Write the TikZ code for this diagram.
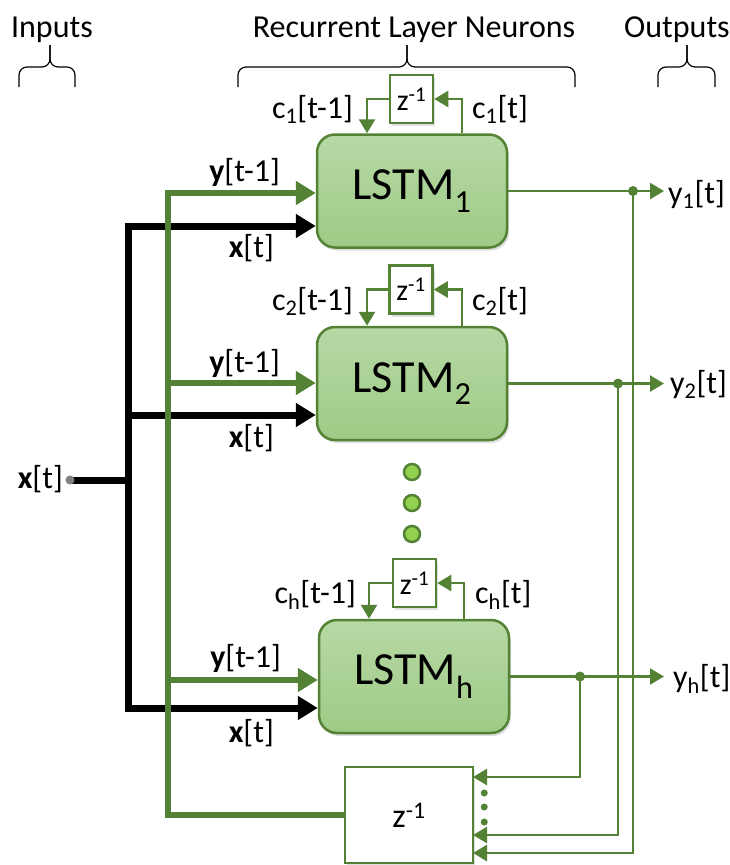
\documentclass[tikz,border=0pt]{standalone}
\usepackage{fontspec}
\setmainfont{Carlito}
\usepackage{tikz}
\usetikzlibrary{arrows.meta, calc, shadows}

\definecolor{lgreen}{HTML}{548235}
\definecolor{boxtop}{HTML}{B7D9A5}
\definecolor{boxbot}{HTML}{9ECA86}
\definecolor{dotfill}{HTML}{92D050}

\begin{document}
\begin{tikzpicture}[
  x=1pt, y=-1pt,
  font=\fontsize{32}{38}\selectfont,
  ctip/.style={-{Triangle[length=14pt, width=16pt]}},
  btip/.style={-{Triangle[length=20pt, width=23pt]}},
  shadowed/.style={drop shadow={shadow xshift=2pt, shadow yshift=-3pt, opacity=0.25}},
  lstm/.style={draw=lgreen, line width=2.5pt, rounded corners=18pt,
    minimum width=190pt, minimum height=113pt,
    top color=boxtop, bottom color=boxbot, shadowed,
    font=\fontsize{46}{52}\selectfont},
  delay/.style={draw=lgreen, line width=2.5pt, fill=white, inner sep=0pt,
    minimum width=43pt, minimum height=48pt, shadowed,
    font=\fontsize{30}{36}\selectfont},
  lbl/.style={inner sep=0pt},
  wire/.style={lgreen, line width=2.5pt},
  ybus/.style={lgreen, line width=6pt},
  xbus/.style={black, line width=7pt},
  ]

  \useasboundingbox (0,0) rectangle (730,865);

  % Headers and braces
  \node[lbl, anchor=base] (hin) at (52,37) {Inputs};
  \node[lbl, anchor=base] (hrec) at (414,37) {Recurrent Layer Neurons};
  \node[lbl, anchor=base] (hout) at (677,37) {Outputs};
  \foreach \xl/\xm/\xr in {19/50/75, 238/407/575, 658/687/715} {
    \draw[line width=1.2pt, rounded corners=8pt] (\xl,87) -- (\xl,67) -- (\xm,67) -- (\xm,45);
    \draw[line width=1.2pt, rounded corners=8pt] (\xr,87) -- (\xr,67) -- (\xm,67) -- (\xm,45);
  }

  % LSTM cells
  \node[lstm] (lstm1) at (412,191) {LSTM\textsubscript{1}};
  \node[lstm] (lstm2) at (412,383.5) {LSTM\textsubscript{2}};
  \node[lstm] (lstmh) at (414,676.5) {LSTM\textsubscript{h}};

  % Cell state delays
  \node[delay] (zc1) at (411.5,99) {z\textsuperscript{-1}};
  \node[delay] (zc2) at (411,289.5) {z\textsuperscript{-1}};
  \node[delay] (zch) at (414.5,583) {z\textsuperscript{-1}};
  \foreach \n in {1,2,h} {
    \draw[wire, ctip] ([xshift=50pt]lstm\n.north) |- (zc\n.east);
    \draw[wire, ctip] (zc\n.west) -| ([xshift=-45pt]lstm\n.north);
  }
  \node[lbl, anchor=base east] (c1in) at (353,118) {c\textsubscript{1}[t-1]};
  \node[lbl, anchor=base west] (c1out) at (472,118) {c\textsubscript{1}[t]};
  \node[lbl, anchor=base east] (c2in) at (353,310) {c\textsubscript{2}[t-1]};
  \node[lbl, anchor=base west] (c2out) at (472,310) {c\textsubscript{2}[t]};
  \node[lbl, anchor=base east] (chin) at (356,603) {c\textsubscript{h}[t-1]};
  \node[lbl, anchor=base west] (chout) at (475,603) {c\textsubscript{h}[t]};

  % More cells
  \foreach \yy in {472, 503, 534}
    \filldraw[fill=dotfill, draw=lgreen, line width=2.5pt] (412,\yy) circle (8pt);

  % Output delay
  \node[delay, minimum width=128pt, minimum height=96pt,
    font=\fontsize{34}{40}\selectfont] (zout) at (409,815) {z\textsuperscript{-1}};
  \foreach \dy in {-22, -8, 7}
    \fill[lgreen] ($(zout.east)+(10,\dy)$) circle (3.5pt);

  % Input x[t] bus
  \coordinate (xin) at (70,480);
  \coordinate (xb1) at (128,226);
  \coordinate (xb2) at (128,415);
  \coordinate (xbh) at (128,708);
  \draw[xbus, {Triangle[length=20pt, width=23pt]}-{Triangle[length=20pt, width=23pt]}]
    (xb1 -| lstm1.west) -- (xb1) -- (xbh) -- (xbh -| lstmh.west);
  \draw[xbus, btip] (xb2) -- (xb2 -| lstm2.west);
  \draw[xbus] (xin) -- (xin -| xb1);
  \fill[gray] (xin) circle (4.5pt);
  \node[lbl, anchor=base east] (xinlab) at (63,488) {\textbf{x}[t]};

  % Recurrent y[t-1] bus
  \coordinate (yb1) at (168,193);
  \coordinate (yb2) at (168,383);
  \coordinate (ybh) at (168,680);
  \draw[ybus, {Triangle[length=20pt, width=23pt]}-]
    (yb1 -| lstm1.west) -- (yb1) |- (zout.west);
  \draw[ybus, btip] (yb2) -- (yb2 -| lstm2.west);
  \draw[ybus, btip] (ybh) -- (ybh -| lstmh.west);

  % Input labels
  \node[lbl, anchor=base east] (ylab1) at (280,181) {\textbf{y}[t-1]};
  \node[lbl, anchor=base east] (xlab1) at (274,257) {\textbf{x}[t]};
  \node[lbl, anchor=base east] (ylab2) at (280,372) {\textbf{y}[t-1]};
  \node[lbl, anchor=base east] (xlab2) at (274,447) {\textbf{x}[t]};
  \node[lbl, anchor=base east] (ylabh) at (281,667) {\textbf{y}[t-1]};
  \node[lbl, anchor=base east] (xlabh) at (274,742) {\textbf{x}[t]};

  % Outputs and feedback to the output delay
  \coordinate (outx) at (664,0);
  \foreach \n/\dx/\oy in {1/633/853, 2/618/835, h/580/777} {
    \coordinate (d\n) at (\dx,0);
    \coordinate (b\n) at (473,\oy);
    \draw[wire, ctip] (lstm\n.east) -- (lstm\n.east -| outx);
    \draw[wire, ctip] (lstm\n.east -| d\n) |- (b\n);
    \fill[lgreen] (lstm\n.east -| d\n) circle (5pt);
  }
  \node[lbl, anchor=base west] (yout1) at (668,203) {y\textsubscript{1}[t]};
  \node[lbl, anchor=base west] (yout2) at (670,393) {y\textsubscript{2}[t]};
  \node[lbl, anchor=base west] (youth) at (673,687) {y\textsubscript{h}[t]};

\end{tikzpicture}
\end{document}
